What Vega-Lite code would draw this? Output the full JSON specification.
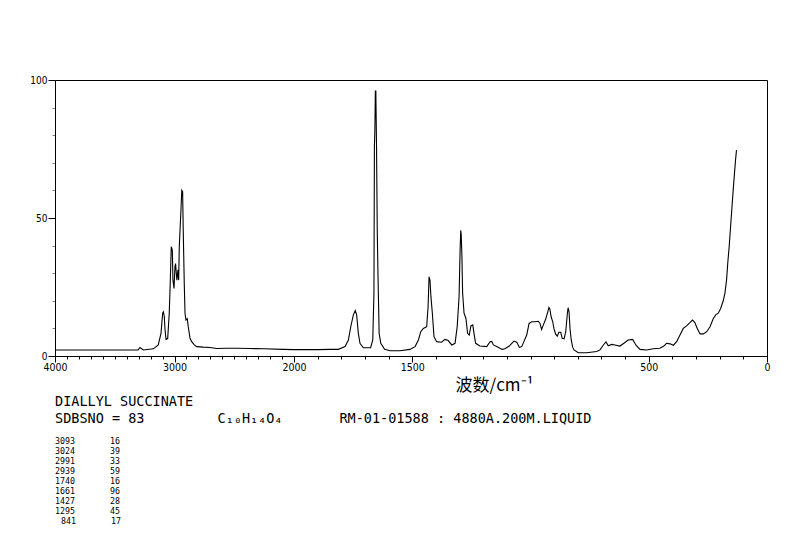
{
  "$schema": "https://vega.github.io/schema/vega-lite/v6.json",
  "width": 712,
  "height": 276,
  "autosize": {"type": "none"},
  "padding": {"left": 55, "top": 80, "right": 27, "bottom": 183},
  "background": "white",
  "view": {"stroke": "black", "strokeWidth": 1},
  "data": {
    "values": [
      {"wavenumber": 4000, "intensity": 2.2}, {"wavenumber": 3800, "intensity": 2.2}, {"wavenumber": 3623, "intensity": 2.2},
      {"wavenumber": 3400, "intensity": 2.2}, {"wavenumber": 3305, "intensity": 2.2}, {"wavenumber": 3289, "intensity": 3.1},
      {"wavenumber": 3261, "intensity": 2.2}, {"wavenumber": 3177, "intensity": 2.6}, {"wavenumber": 3136, "intensity": 4.0},
      {"wavenumber": 3113, "intensity": 8.2}, {"wavenumber": 3099, "intensity": 15.5}, {"wavenumber": 3093, "intensity": 16},
      {"wavenumber": 3086, "intensity": 14.5}, {"wavenumber": 3079, "intensity": 9.4}, {"wavenumber": 3071, "intensity": 6.0},
      {"wavenumber": 3057, "intensity": 6.3}, {"wavenumber": 3044, "intensity": 15.5}, {"wavenumber": 3035, "intensity": 27.5},
      {"wavenumber": 3027, "intensity": 39.6}, {"wavenumber": 3022, "intensity": 39}, {"wavenumber": 3018, "intensity": 38},
      {"wavenumber": 3013, "intensity": 27.5}, {"wavenumber": 3004, "intensity": 24.5}, {"wavenumber": 2996, "intensity": 32.4},
      {"wavenumber": 2991, "intensity": 33.5}, {"wavenumber": 2985, "intensity": 30}, {"wavenumber": 2980, "intensity": 27.5},
      {"wavenumber": 2971, "intensity": 31.2}, {"wavenumber": 2965, "intensity": 27.5}, {"wavenumber": 2960, "intensity": 39.6},
      {"wavenumber": 2946, "intensity": 52.9}, {"wavenumber": 2939, "intensity": 60}, {"wavenumber": 2932, "intensity": 59.5},
      {"wavenumber": 2927, "intensity": 45.7}, {"wavenumber": 2918, "intensity": 25.7}, {"wavenumber": 2912, "intensity": 15.5},
      {"wavenumber": 2904, "intensity": 13}, {"wavenumber": 2893, "intensity": 13.5}, {"wavenumber": 2885, "intensity": 10.6},
      {"wavenumber": 2870, "intensity": 6.4}, {"wavenumber": 2856, "intensity": 5.2}, {"wavenumber": 2834, "intensity": 4.0},
      {"wavenumber": 2814, "intensity": 3.4}, {"wavenumber": 2760, "intensity": 3.2}, {"wavenumber": 2703, "intensity": 3.1},
      {"wavenumber": 2647, "intensity": 2.7}, {"wavenumber": 2560, "intensity": 2.8}, {"wavenumber": 2480, "intensity": 2.8},
      {"wavenumber": 2368, "intensity": 2.7}, {"wavenumber": 2250, "intensity": 2.6}, {"wavenumber": 2092, "intensity": 2.4},
      {"wavenumber": 2000, "intensity": 2.3}, {"wavenumber": 1900, "intensity": 2.3}, {"wavenumber": 1848, "intensity": 2.4},
      {"wavenumber": 1813, "intensity": 2.4}, {"wavenumber": 1784, "intensity": 3.4}, {"wavenumber": 1770, "intensity": 5.8},
      {"wavenumber": 1760, "intensity": 10.6}, {"wavenumber": 1749, "intensity": 14.9}, {"wavenumber": 1741, "intensity": 16.5},
      {"wavenumber": 1735, "intensity": 14.9}, {"wavenumber": 1728, "intensity": 8.2}, {"wavenumber": 1721, "intensity": 4.6},
      {"wavenumber": 1707, "intensity": 3.0}, {"wavenumber": 1676, "intensity": 3.0}, {"wavenumber": 1667, "intensity": 5.8},
      {"wavenumber": 1662, "intensity": 22.7}, {"wavenumber": 1660, "intensity": 75.8}, {"wavenumber": 1658, "intensity": 82},
      {"wavenumber": 1656, "intensity": 96}, {"wavenumber": 1654, "intensity": 96}, {"wavenumber": 1651, "intensity": 75.8},
      {"wavenumber": 1648, "intensity": 45.7}, {"wavenumber": 1645, "intensity": 30}, {"wavenumber": 1640, "intensity": 8.2},
      {"wavenumber": 1633, "intensity": 4.6}, {"wavenumber": 1617, "intensity": 2.4}, {"wavenumber": 1594, "intensity": 1.9},
      {"wavenumber": 1552, "intensity": 1.9}, {"wavenumber": 1510, "intensity": 2.4}, {"wavenumber": 1488, "intensity": 3.4},
      {"wavenumber": 1474, "intensity": 5.8}, {"wavenumber": 1464, "intensity": 8.8}, {"wavenumber": 1453, "intensity": 10},
      {"wavenumber": 1439, "intensity": 10.6}, {"wavenumber": 1433, "intensity": 17.9}, {"wavenumber": 1429, "intensity": 28.7},
      {"wavenumber": 1425, "intensity": 27.5}, {"wavenumber": 1421, "intensity": 21.5}, {"wavenumber": 1415, "intensity": 15.5},
      {"wavenumber": 1408, "intensity": 7.0}, {"wavenumber": 1397, "intensity": 5.2}, {"wavenumber": 1376, "intensity": 5.0},
      {"wavenumber": 1362, "intensity": 6.0}, {"wavenumber": 1348, "intensity": 5.6}, {"wavenumber": 1333, "intensity": 4.0},
      {"wavenumber": 1319, "intensity": 4.6}, {"wavenumber": 1310, "intensity": 10.6}, {"wavenumber": 1302, "intensity": 21.5},
      {"wavenumber": 1298, "intensity": 37.2}, {"wavenumber": 1295, "intensity": 45.5}, {"wavenumber": 1293, "intensity": 44},
      {"wavenumber": 1290, "intensity": 36}, {"wavenumber": 1287, "intensity": 22.7}, {"wavenumber": 1281, "intensity": 15.5},
      {"wavenumber": 1273, "intensity": 13.6}, {"wavenumber": 1266, "intensity": 8.2}, {"wavenumber": 1259, "intensity": 7.6},
      {"wavenumber": 1252, "intensity": 10.9}, {"wavenumber": 1244, "intensity": 11.3}, {"wavenumber": 1239, "intensity": 8.2},
      {"wavenumber": 1232, "intensity": 4.6}, {"wavenumber": 1214, "intensity": 3.6}, {"wavenumber": 1185, "intensity": 3.4},
      {"wavenumber": 1171, "intensity": 5.2}, {"wavenumber": 1164, "intensity": 5.3}, {"wavenumber": 1157, "intensity": 4.0},
      {"wavenumber": 1143, "intensity": 3.4}, {"wavenumber": 1120, "intensity": 2.4}, {"wavenumber": 1108, "intensity": 2.6},
      {"wavenumber": 1090, "intensity": 3.6}, {"wavenumber": 1070, "intensity": 5.4}, {"wavenumber": 1058, "intensity": 5.0},
      {"wavenumber": 1047, "intensity": 3.1}, {"wavenumber": 1037, "intensity": 3.4}, {"wavenumber": 1028, "intensity": 5.2},
      {"wavenumber": 1016, "intensity": 7.6}, {"wavenumber": 1006, "intensity": 11.8}, {"wavenumber": 995, "intensity": 12.4},
      {"wavenumber": 981, "intensity": 12.4}, {"wavenumber": 967, "intensity": 12.6}, {"wavenumber": 960, "intensity": 11.8},
      {"wavenumber": 953, "intensity": 9.6}, {"wavenumber": 946, "intensity": 11.2}, {"wavenumber": 936, "intensity": 13.3},
      {"wavenumber": 927, "intensity": 16}, {"wavenumber": 922, "intensity": 17.6}, {"wavenumber": 918, "intensity": 17},
      {"wavenumber": 913, "intensity": 14.3}, {"wavenumber": 906, "intensity": 12.4}, {"wavenumber": 901, "intensity": 10},
      {"wavenumber": 894, "intensity": 8}, {"wavenumber": 887, "intensity": 7.2}, {"wavenumber": 880, "intensity": 8.6},
      {"wavenumber": 872, "intensity": 8.6}, {"wavenumber": 866, "intensity": 6.4}, {"wavenumber": 858, "intensity": 6.2},
      {"wavenumber": 851, "intensity": 8.8}, {"wavenumber": 844, "intensity": 15.5}, {"wavenumber": 841, "intensity": 17.5},
      {"wavenumber": 837, "intensity": 16}, {"wavenumber": 833, "intensity": 10}, {"wavenumber": 828, "intensity": 6},
      {"wavenumber": 822, "intensity": 3.2}, {"wavenumber": 816, "intensity": 2.2}, {"wavenumber": 798, "intensity": 1.2},
      {"wavenumber": 763, "intensity": 1.2}, {"wavenumber": 720, "intensity": 1.6}, {"wavenumber": 706, "intensity": 2.2},
      {"wavenumber": 692, "intensity": 4.0}, {"wavenumber": 681, "intensity": 5.1}, {"wavenumber": 671, "intensity": 3.7},
      {"wavenumber": 657, "intensity": 4.2}, {"wavenumber": 643, "intensity": 4.0}, {"wavenumber": 622, "intensity": 3.6},
      {"wavenumber": 605, "intensity": 4.6}, {"wavenumber": 587, "intensity": 5.8}, {"wavenumber": 568, "intensity": 6.0},
      {"wavenumber": 554, "intensity": 3.9}, {"wavenumber": 537, "intensity": 2.4}, {"wavenumber": 509, "intensity": 2.2},
      {"wavenumber": 481, "intensity": 2.6}, {"wavenumber": 453, "intensity": 2.8}, {"wavenumber": 436, "intensity": 3.6},
      {"wavenumber": 425, "intensity": 4.6}, {"wavenumber": 410, "intensity": 4.4}, {"wavenumber": 396, "intensity": 3.9},
      {"wavenumber": 382, "intensity": 5.2}, {"wavenumber": 368, "intensity": 7.6}, {"wavenumber": 354, "intensity": 10},
      {"wavenumber": 340, "intensity": 10.9}, {"wavenumber": 326, "intensity": 12.1}, {"wavenumber": 315, "intensity": 13},
      {"wavenumber": 305, "intensity": 12.1}, {"wavenumber": 295, "intensity": 10}, {"wavenumber": 283, "intensity": 8},
      {"wavenumber": 269, "intensity": 8}, {"wavenumber": 255, "intensity": 8.8}, {"wavenumber": 241, "intensity": 10.6},
      {"wavenumber": 227, "intensity": 13.6}, {"wavenumber": 216, "intensity": 15}, {"wavenumber": 206, "intensity": 15.5},
      {"wavenumber": 196, "intensity": 17.2}, {"wavenumber": 185, "intensity": 20}, {"wavenumber": 178, "intensity": 22.7},
      {"wavenumber": 171, "intensity": 27.5}, {"wavenumber": 166, "intensity": 33.6}, {"wavenumber": 160, "intensity": 39.6},
      {"wavenumber": 154, "intensity": 46.8}, {"wavenumber": 148, "intensity": 54.1}, {"wavenumber": 143, "intensity": 60.1},
      {"wavenumber": 137, "intensity": 66.8}, {"wavenumber": 133, "intensity": 71}, {"wavenumber": 129, "intensity": 74.6}
    ]
  },
  "layer": [
    {
      "mark": {"type": "line", "color": "#000", "strokeOpacity": 0},
      "encoding": {
        "x": {
          "field": "wavenumber",
          "type": "quantitative",
          "scale": {"domain": [4000, 2000, 0], "range": [0, 239, 712], "nice": false, "zero": false},
          "axis": {
            "orient": "bottom",
            "values": [4000, 3900, 3800, 3700, 3600, 3500, 3400, 3300, 3200, 3100, 3000, 2900, 2800, 2700, 2600, 2500, 2400, 2300, 2200, 2100, 2000, 1900, 1800, 1700, 1600, 1500, 1400, 1300, 1200, 1100, 1000, 900, 800, 700, 600, 500, 400, 300, 200, 100, 0],
            "grid": false,
            "labels": false,
            "domain": false,
            "tickSize": 3,
            "tickColor": "black",
            "zindex": 1,
            "title": null
          }
        },
        "y": {
          "field": "intensity",
          "type": "quantitative",
          "scale": {"domain": [0, 100], "nice": false},
          "axis": {
            "orient": "left",
            "values": [0, 10, 20, 30, 40, 50, 60, 70, 80, 90, 100],
            "grid": false,
            "labels": false,
            "domain": false,
            "tickSize": 3,
            "tickColor": "gray",
            "zindex": 1,
            "title": null
          }
        }
      }
    },
    {
      "mark": {"type": "line", "color": "#000", "strokeWidth": 1.1},
      "encoding": {
        "x": {
          "field": "wavenumber",
          "type": "quantitative",
          "axis": {
            "orient": "bottom",
            "values": [4000, 3000, 2000, 1500, 500, 0],
            "format": "d",
            "grid": false,
            "domain": true,
            "domainColor": "black",
            "tickSize": 6,
            "tickColor": "black",
            "zindex": 1,
            "labelColor": "black",
            "labelFlush": false,
            "labelFont": "Liberation Sans Narrow, DejaVu Sans Condensed, sans-serif",
            "labelFontSize": 10.5,
            "labelPadding": 0,
            "title": "波数/cm⁻¹",
            "titleFont": "Noto Sans CJK SC",
            "titleFontSize": 17,
            "titleFontWeight": "normal",
            "titleColor": "#000",
            "titleX": 439,
            "titleY": 29.5,
            "titleAlign": "center",
            "titleBaseline": "middle"
          }
        },
        "y": {
          "field": "intensity",
          "type": "quantitative",
          "axis": {
            "orient": "left",
            "values": [0, 50, 100],
            "grid": false,
            "domain": true,
            "domainColor": "black",
            "tickSize": 7,
            "tickColor": "black",
            "zindex": 1,
            "labelColor": "black",
            "labelFlush": false,
            "labelFont": "Liberation Sans Narrow, DejaVu Sans Condensed, sans-serif",
            "labelFontSize": 10,
            "labelPadding": 1,
            "title": null
          }
        }
      }
    }
  ],
  "resolve": {"axis": {"x": "independent", "y": "independent"}},
  "title": {
    "text": ["DIALLYL SUCCINATE", "SDBSNO\u00a0=\u00a083\u00a0\u00a0\u00a0\u00a0\u00a0\u00a0\u00a0\u00a0\u00a0C₁₀H₁₄O₄\u00a0\u00a0\u00a0\u00a0\u00a0\u00a0\u00a0RM-01-01588\u00a0:\u00a04880A.200M.LIQUID"],
    "subtitle": ["3093\u00a0\u00a0\u00a0\u00a0\u00a0\u00a0\u00a016", "3024\u00a0\u00a0\u00a0\u00a0\u00a0\u00a0\u00a039", "2991\u00a0\u00a0\u00a0\u00a0\u00a0\u00a0\u00a033", "2939\u00a0\u00a0\u00a0\u00a0\u00a0\u00a0\u00a059", "1740\u00a0\u00a0\u00a0\u00a0\u00a0\u00a0\u00a016", "1661\u00a0\u00a0\u00a0\u00a0\u00a0\u00a0\u00a096", "1427\u00a0\u00a0\u00a0\u00a0\u00a0\u00a0\u00a028", "1295\u00a0\u00a0\u00a0\u00a0\u00a0\u00a0\u00a045", "\u2800841\u00a0\u00a0\u00a0\u00a0\u00a0\u00a0\u00a017"],
    "orient": "bottom",
    "anchor": "start",
    "frame": "group",
    "font": "DejaVu Sans Mono",
    "fontSize": 13.5,
    "fontWeight": "normal",
    "color": "#000",
    "lineHeight": 17,
    "subtitleFont": "DejaVu Sans Mono",
    "subtitleFontSize": 8.3,
    "subtitleLineHeight": 10,
    "subtitleColor": "#000",
    "subtitlePadding": 12,
    "offset": 1
  }
}
